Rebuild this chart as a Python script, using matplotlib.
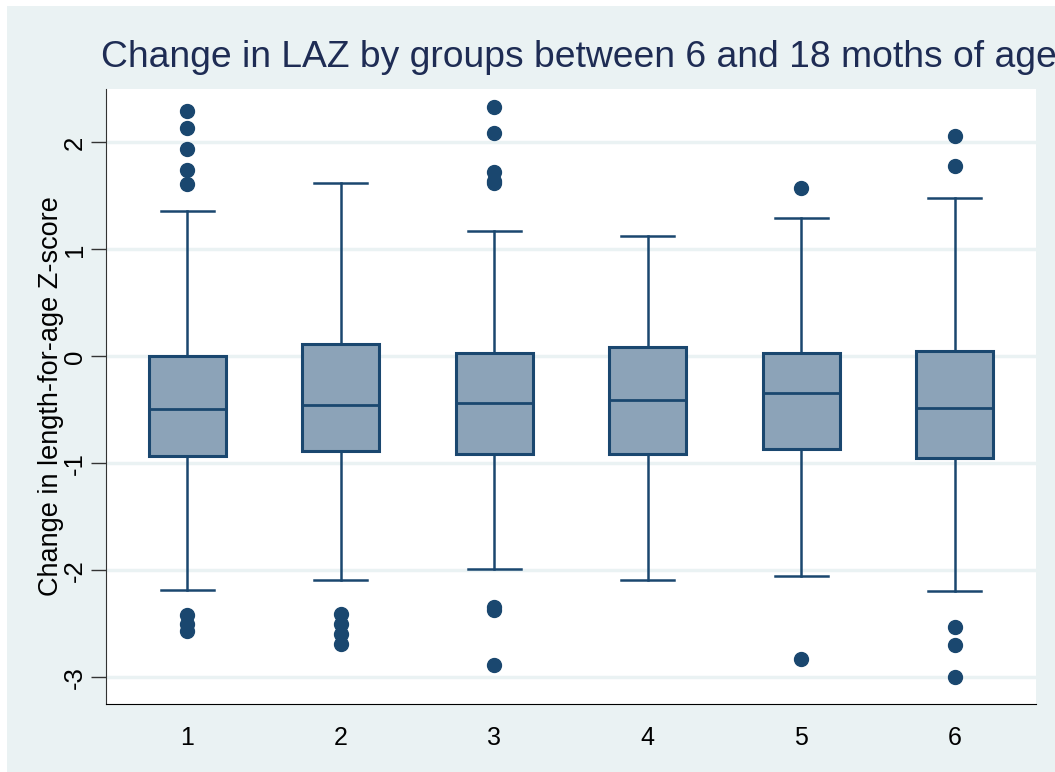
import matplotlib
matplotlib.use("Agg")
import matplotlib.pyplot as plt
from matplotlib.patches import Rectangle

plt.rcParams["font.family"] = ["Liberation Sans", "DejaVu Sans"]

# Данные
groups = [1, 2, 3, 4, 5, 6]
q1 = [-0.93, -0.88, -0.91, -0.91, -0.87, -0.95]
med = [-0.49, -0.45, -0.44, -0.41, -0.34, -0.48]
q3 = [0.00, 0.12, 0.03, 0.09, 0.03, 0.05]
whislo = [-2.18, -2.09, -1.99, -2.09, -2.05, -2.19]
whishi = [1.36, 1.62, 1.17, 1.13, 1.29, 1.48]
fliers = [
    [2.29, 2.14, 1.94, 1.74, 1.61, -2.42, -2.50, -2.57],
    [-2.41, -2.50, -2.60, -2.69],
    [2.33, 2.09, 1.72, 1.64, 1.62, -2.34, -2.37, -2.89],
    [],
    [1.57, -2.83],
    [2.06, 1.78, -2.53, -2.70, -3.00],
]
yticks = [-3, -2, -1, 0, 1, 2]

navy = "#1A476F"
bg = "#EAF2F3"

fig = plt.figure(figsize=(10.55, 7.72), dpi=100, facecolor="white")
fig.patches.append(Rectangle((7 / 1055, 0), 1, 1 - 6 / 772, transform=fig.transFigure,
                             facecolor=bg, edgecolor="none", zorder=-5))
ax = fig.add_axes([106 / 1055, 1 - 704 / 772, (1036 - 106) / 1055, (704 - 89) / 772])
ax.set_facecolor("white")

stats = []
for i in range(len(groups)):
    stats.append({"label": str(groups[i]), "q1": q1[i], "med": med[i], "q3": q3[i],
                  "whislo": whislo[i], "whishi": whishi[i], "fliers": fliers[i]})

ax.bxp(stats, positions=groups, widths=0.5, capwidths=0.345, patch_artist=True,
       boxprops=dict(facecolor="#8CA3B8", edgecolor=navy, linewidth=2.2),
       medianprops=dict(color=navy, linewidth=2),
       whiskerprops=dict(color=navy, linewidth=1.8),
       capprops=dict(color=navy, linewidth=1.8),
       flierprops=dict(marker="o", markerfacecolor=navy, markeredgecolor=navy, markersize=10))

ax.set_xlim(0.47, 6.53)
ax.set_ylim(-3.25, 2.5)
ax.set_yticks(yticks)
ax.set_yticklabels([str(t) for t in yticks], rotation=90, va="center", fontsize=18.5)
ax.set_xticks(groups)
ax.set_xticklabels([str(g) for g in groups], fontsize=18)
ax.tick_params(axis="x", length=0, pad=16)
ax.tick_params(axis="y", length=11, width=1, color="#333333", pad=3)
ax.yaxis.grid(True, color=bg, linewidth=2.5)
ax.set_axisbelow(True)
for s in ["top", "right"]:
    ax.spines[s].set_visible(False)
ax.spines["left"].set_color("#333333")
ax.spines["bottom"].set_color("black")
ax.set_ylabel("Change in length-for-age Z-score", fontsize=19.5)
ax.yaxis.set_label_coords(-0.045, 0.5)

fig.text(101 / 1055, 1 - 67 / 772, "Change in LAZ by groups between 6 and 18 moths of age",
         fontsize=26.8, color="#1E2C54", ha="left", va="baseline")

fig.savefig("out.png", dpi=100, facecolor=fig.get_facecolor())
